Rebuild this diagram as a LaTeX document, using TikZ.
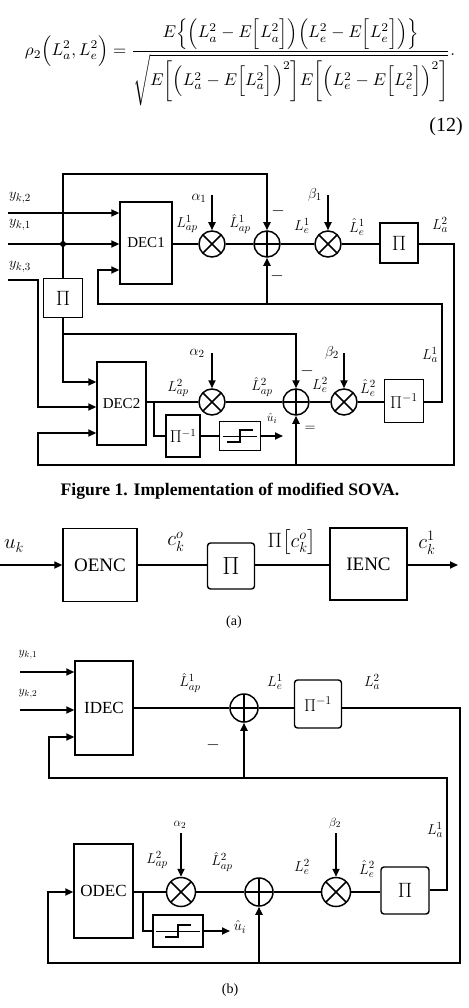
\documentclass[tikz,border=0pt]{standalone}
\usepackage{fontspec}
\setmainfont{Liberation Serif}
\usepackage{amsmath}
\usepackage{graphicx}
\usetikzlibrary{arrows.meta,calc}
\tikzset{
 wire/.style={line width=1.8pt},
 ar/.style={wire,-{Triangle[length=8pt,width=7pt]}},
 blk/.style={draw,line width=1.4pt,inner sep=0pt,font=\fontsize{15}{15}\selectfont},
 lbl/.style={inner sep=0pt,font=\fontsize{15}{15}\selectfont},
 slbl/.style={inner sep=0pt,font=\fontsize{13}{13}\selectfont},
 sgn/.style={inner sep=0pt,font=\bfseries\fontsize{18}{18}\selectfont},
 mult/.style={circle,draw,line width=1.5pt,minimum size=#1,inner sep=0pt,
   path picture={\draw[line width=1.5pt] (path picture bounding box.north west)--(path picture bounding box.south east)
     (path picture bounding box.north east)--(path picture bounding box.south west);}},
 mult/.default=26pt,
 sumn/.style={circle,draw,line width=1.5pt,minimum size=#1,inner sep=0pt,
   path picture={\draw[line width=1.5pt] (path picture bounding box.north)--(path picture bounding box.south)
     (path picture bounding box.west)--(path picture bounding box.east);}},
 sumn/.default=26pt,
 jdot/.style={circle,fill,inner sep=0pt,minimum size=6pt},
 subcap/.style={inner sep=0pt,font=\fontsize{14}{14}\selectfont},
 albl/.style={inner sep=0pt,font=\fontsize{20}{20}\selectfont},
}
\newcommand{\hardsym}[1]{%
  \draw[line width=1.0pt] ($(#1.west)+(4,0)$) -- ($(#1.east)+(-4,0)$);
  \draw[line width=1.6pt] ($(#1.center)+(-13,6)$) -- ($(#1.center)+(0,6)$) -- ($(#1.center)+(0,-6)$) -- ($(#1.center)+(13,-6)$);}
\begin{document}
\begin{tikzpicture}[x=1pt,y=-1pt]
\useasboundingbox[fill=white] (0,0) rectangle (468,1008);

% ---------- equation ----------
\node[inner sep=0pt] (eq) at (240,62) {\resizebox{430pt}{!}{$\displaystyle
\rho_2\Bigl(L_a^2,L_e^2\Bigr)=\frac{E\Bigl\{\Bigl(L_a^2-E\Bigl[L_a^2\Bigr]\Bigr)\Bigl(L_e^2-E\Bigl[L_e^2\Bigr]\Bigr)\Bigr\}}{\sqrt{E\biggl[\Bigl(L_a^2-E\Bigl[L_a^2\Bigr]\Bigr)^2\biggr]E\biggl[\Bigl(L_e^2-E\Bigl[L_e^2\Bigr]\Bigr)^2\biggr]}}.$}};
\node[inner sep=0pt,font=\fontsize{20}{20}\selectfont] (eqn) at (446,127) {(12)};

% ---------- Figure 1 ----------
\node[blk,minimum width=52pt,minimum height=82pt] (dec1) at (146,243) {DEC1};
\node[blk,minimum width=39pt,minimum height=39pt,font=\fontsize{20}{20}\selectfont] (pib) at (63,298) {$\Pi$};
\node[mult] (m1) at (212,244) {};
\node[sumn] (s1) at (267,244) {};
\node[mult] (m2) at (328,244) {};
\node[blk,minimum width=38pt,minimum height=40pt,font=\fontsize{20}{20}\selectfont] (pi1) at (399,243) {$\Pi$};

\node[blk,minimum width=49pt,minimum height=83pt] (dec2) at (121.5,403.5) {DEC2};
\node[mult] (m3) at (212,402) {};
\node[sumn] (s2) at (296,402) {};
\node[mult] (m4) at (344,402) {};
\node[blk,minimum width=39pt,minimum height=43pt,font=\fontsize{17}{17}\selectfont] (pi2) at (404,401) {$\Pi^{-1}$};
\node[blk,minimum width=34pt,minimum height=42pt,font=\fontsize{16}{16}\selectfont] (pin) at (183,436) {$\Pi^{-1}$};
\node[blk,minimum width=41pt,minimum height=29pt] (hd) at (240,436) {};
\hardsym{hd}

\coordinate (yk2) at (8,213);
\coordinate (yk1) at (8,244);
\coordinate (yk3) at (8,280);
\coordinate (a1) at (212,195);
\coordinate (b1) at (328,195);
\coordinate (a2) at (212,353);
\coordinate (b2) at (344,353);
\coordinate (t1) at (63,174);
\coordinate (uo) at (283,436);
\node[jdot] (j1) at (63,244) {};

\draw[ar] (yk2) -- (yk2 -| dec1.west);
\draw[ar] (yk1) -- (yk1 -| dec1.west);
\draw[ar] (yk3) -- (38,280) -- (38,407) -- (dec2.west |- 0,407);
\draw[ar] (pib.north) -- (t1) -| (s1.north);
\draw[ar] (pib.south) -- (63,382) -- (dec2.west |- 0,382);
\draw[ar] (63,334) -| (s2.north);
\draw[ar] (a1) -- (m1.north);
\draw[ar] (b1) -- (m2.north);
\draw[ar] (a2) -- (m3.north);
\draw[ar] (b2) -- (m4.north);
\draw[wire] (dec1.east |- m1) -- (m1) -- (s1) -- (m2) -- (m2 -| pi1.west);
\draw[wire] (dec2.east |- m3) -- (m3) -- (s2) -- (m4) -- (m4 -| pi2.west);
\draw[wire] (154,402) -- (154,436) -- (pin.west |- 0,436);
\draw[wire] (pin.east) -- (hd.west);
\draw[ar] (hd.east) -- (uo);
\draw[ar] (pi2.east |- 0,402) -- (442,402) -- (442,304) -- (98,304) -- (98,270) -- (dec1.west |- 0,270);
\draw[ar] (s1.south |- 0,304) -- (s1.south);
\draw[ar] (pi1.east |- 0,244) -- (454,244) -- (454,465) -- (38,465) -- (38,433) -- (dec2.west |- 0,433);
\draw[ar] (s2.south |- 0,465) -- (s2.south);

\node[lbl] at (20,198) {$y_{k,2}$};
\node[lbl] at (20,225) {$y_{k,1}$};
\node[lbl] at (20,267) {$y_{k,3}$};
\node[lbl] at (199,198) {$\alpha_1$};
\node[lbl] at (315,195) {$\beta_1$};
\node[lbl] at (187,224) {$L_{ap}^1$};
\node[lbl] at (240,224) {$\hat{L}_{ap}^1$};
\node[lbl] at (302,226) {$L_e^1$};
\node[lbl] at (357,227) {$\hat{L}_e^1$};
\node[lbl] at (440,225) {$L_a^2$};
\node[sgn] at (278,211) {$-$};
\node[sgn] at (277,276) {$-$};
\node[lbl] at (197,353) {$\alpha_2$};
\node[lbl] at (332,353) {$\beta_2$};
\node[lbl] at (178,388) {$L_{ap}^2$};
\node[lbl] at (262,387) {$\hat{L}_{ap}^2$};
\node[lbl] at (320,385) {$L_e^2$};
\node[lbl] at (368,388) {$\hat{L}_e^2$};
\node[lbl] at (430,355) {$L_a^1$};
\node[slbl] at (272,418) {$\hat{u}_i$};
\node[sgn] at (307,371) {$-$};
\node[lbl] at (310,429) {$=$};

\node[inner sep=0pt,font=\bfseries\fontsize{17.6}{17.6}\selectfont] (cap1) at (230,491) {Figure 1. Implementation of modified SOVA.};

% ---------- (a) ----------
\node[blk,minimum width=74pt,minimum height=73pt,font=\fontsize{19}{19}\selectfont] (oenc) at (100,565) {OENC};
\node[blk,rounded corners=3pt,minimum width=47pt,minimum height=46pt,font=\fontsize{25}{25}\selectfont] (pa) at (231,566) {$\Pi$};
\node[blk,minimum width=77pt,minimum height=72pt,font=\fontsize{19}{19}\selectfont] (ienc) at (368.5,564) {IENC};
\coordinate (uk) at (0,565);
\coordinate (ck) at (458,565);
\draw[ar] (uk) -- (oenc.west |- uk);
\draw[wire] (oenc.east |- uk) -- (pa.west |- uk);
\draw[wire] (pa.east |- uk) -- (ienc.west |- uk);
\draw[ar] (ienc.east |- uk) -- (ck);
\node[albl] at (14,546) {$u_k$};
\node[albl] at (176,542) {$c_k^o$};
\node[albl] at (292,542) {$\Pi\bigl[c_k^o\bigr]$};
\node[albl] at (427,543) {$c_k^1$};
\node[subcap] at (234,622) {(a)};

% ---------- (b) ----------
\node[blk,minimum width=58pt,minimum height=94pt,font=\fontsize{17}{17}\selectfont] (idec) at (104,708) {IDEC};
\node[sumn=28pt] (sb1) at (244,708) {};
\node[blk,rounded corners=3pt,minimum width=47pt,minimum height=48pt,font=\fontsize{17}{17}\selectfont] (pib2) at (318,704) {$\Pi^{-1}$};
\node[blk,minimum width=59pt,minimum height=94pt,font=\fontsize{17}{17}\selectfont] (odec) at (103.5,891) {ODEC};
\node[mult=29pt] (mb1) at (181,892) {};
\node[sumn=28pt] (sb2) at (259,892) {};
\node[mult=29pt] (mb2) at (336,892) {};
\node[blk,rounded corners=3pt,minimum width=48pt,minimum height=47pt,font=\fontsize{21}{21}\selectfont] (pb) at (405,890.5) {$\Pi$};
\node[blk,minimum width=50pt,minimum height=32pt] (hdb) at (178,931) {};
\hardsym{hdb}

\coordinate (byk1) at (20,672);
\coordinate (byk2) at (20,710);
\coordinate (ba2) at (181,833);
\coordinate (bb2) at (336,833);
\coordinate (buo) at (230,931);
\draw[ar] (byk1) -- (byk1 -| idec.west);
\draw[ar] (byk2) -- (byk2 -| idec.west);
\draw[wire] (idec.east |- sb1) -- (sb1) -- (sb1 -| pib2.west);
\draw[ar] (sb1 -| pib2.east) -- (460,708) -- (460,963) -- (48,963) -- (48,892) -- (odec.west |- 0,892);
\draw[ar] (sb2.south |- 0,963) -- (sb2.south);
\draw[ar] (pb.east |- 0,890) -- (447,890) -- (447,778) -- (49,778) -- (49,737) -- (idec.west |- 0,737);
\draw[ar] (sb1.south |- 0,778) -- (sb1.south);
\draw[wire] (odec.east |- mb1) -- (mb1) -- (sb2) -- (mb2) -- (mb2 -| pb.west);
\draw[ar] (ba2) -- (mb1.north);
\draw[ar] (bb2) -- (mb2.north);
\draw[wire] (143,892) -- (143,931) -- (hdb.west);
\draw[ar] (hdb.east) -- (buo);

\node[slbl] at (28,655) {$y_{k,1}$};
\node[slbl] at (28,694) {$y_{k,2}$};
\node[lbl] at (190,683) {$\hat{L}_{ap}^1$};
\node[lbl] at (275,682) {$L_e^1$};
\node[lbl] at (372,682) {$L_a^2$};
\node[sgn] at (213,745) {$-$};
\node[slbl] at (180,825) {$\alpha_2$};
\node[slbl] at (335,823) {$\beta_2$};
\node[lbl] at (157,860) {$L_{ap}^2$};
\node[lbl] at (222,862) {$\hat{L}_{ap}^2$};
\node[lbl] at (302,867) {$L_e^2$};
\node[lbl] at (367,869) {$\hat{L}_e^2$};
\node[lbl] at (435,830) {$L_a^1$};
\node[lbl] at (240,927) {$\hat{u}_i$};
\node[subcap] at (230,990) {(b)};
\end{tikzpicture}
\end{document}
